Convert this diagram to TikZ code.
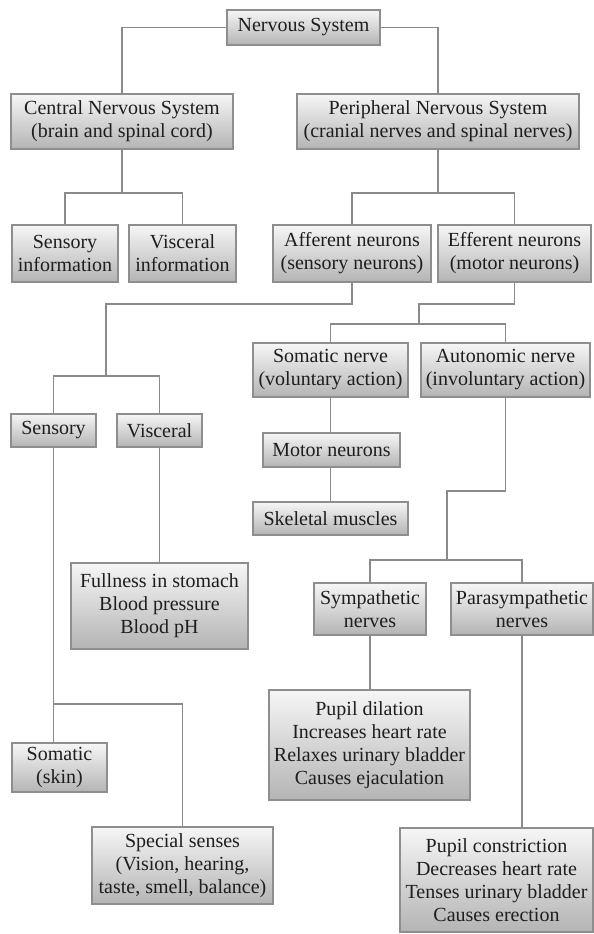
\documentclass[tikz,border=0pt]{standalone}
\usepackage{fontspec}
\setmainfont{Liberation Serif}
\definecolor{txt}{HTML}{1E1E1E}
\definecolor{edge}{HTML}{8E8E8E}
\definecolor{wire}{HTML}{8A8A8A}
\definecolor{boxtop}{HTML}{F6F6F6}
\definecolor{boxbot}{HTML}{B4B4B4}
\tikzset{
  bx/.style={draw=edge, line width=1.3pt, top color=boxtop, bottom color=boxbot,
    inner sep=0pt, align=center, text=txt,
    font=\fontsize{20}{23}\selectfont},
  wr/.style={draw=wire, line width=1.8pt}
}
\newcommand{\bxnode}[6]{\node[bx, minimum width=#4, minimum height=#5] (#1) at (#2,#3) {#6};}
\begin{document}
\begin{tikzpicture}[x=1pt,y=-1pt]
\useasboundingbox (0,0) rectangle (594,934);
% boxes
\bxnode{ns}{303.5}{27.5}{153pt}{35pt}{Nervous System}
\bxnode{cns}{122}{121.5}{222pt}{55pt}{Central Nervous System\\(brain and spinal cord)}
\bxnode{pns}{438}{121.5}{282pt}{55pt}{Peripheral Nervous System\\(cranial nerves and spinal nerves)}
\bxnode{sinfo}{65}{253.5}{106pt}{57pt}{Sensory\\information}
\bxnode{vinfo}{182.5}{253.5}{107pt}{57pt}{Visceral\\information}
\bxnode{aff}{352}{253.5}{158pt}{57pt}{Afferent neurons\\(sensory neurons)}
\bxnode{eff}{514.5}{253.5}{153pt}{57pt}{Efferent neurons\\(motor neurons)}
\bxnode{sens}{53.5}{430.5}{85pt}{33pt}{Sensory}
\bxnode{visc}{159.5}{430.5}{85pt}{33pt}{Visceral}
\bxnode{som}{330.5}{370}{155pt}{54pt}{Somatic nerve\\(voluntary action)}
\bxnode{aut}{505.5}{370}{169pt}{54pt}{Autonomic nerve\\(involuntary action)}
\bxnode{mot}{331.5}{450}{137pt}{34pt}{Motor neurons}
\bxnode{skel}{330.5}{518.5}{155pt}{33pt}{Skeletal muscles}
\bxnode{full}{159.5}{606}{177pt}{86pt}{Fullness in stomach\\Blood pressure\\Blood pH}
\bxnode{symp}{370}{609}{112pt}{52pt}{Sympathetic\\nerves}
\bxnode{para}{522}{609}{142pt}{52pt}{Parasympathetic\\nerves}
\bxnode{pdil}{369.5}{745}{201pt}{110pt}{Pupil dilation\\Increases heart rate\\Relaxes urinary bladder\\Causes ejaculation}
\bxnode{pcon}{496.5}{880}{193pt}{104pt}{Pupil constriction\\Decreases heart rate\\Tenses urinary bladder\\Causes erection}
\bxnode{somsk}{59.5}{767.5}{95pt}{49pt}{Somatic\\(skin)}
\bxnode{spec}{182.5}{865.5}{181pt}{77pt}{Special senses\\(Vision, hearing,\\taste, smell, balance)}
% bend points
\coordinate (b1) at (0,193);
\coordinate (a1) at (106,304);
\coordinate (a2) at (0,376);
\coordinate (e1) at (419,304);
\coordinate (e2) at (0,324);
\coordinate (u1) at (447,491);
\coordinate (u2) at (0,560);
\coordinate (s1) at (0,704);
% connectors
\draw[wr] (ns.west) -| (cns.north);
\draw[wr] (ns.east) -| (pns.north);
\draw[wr] (cns.south) -- (cns.south |- b1);
\draw[wr] (sinfo.north) |- (b1 -| vinfo.north) -- (vinfo.north);
\draw[wr] (pns.south) -- (pns.south |- b1);
\draw[wr] (aff.north) |- (b1 -| eff.north) -- (eff.north);
\draw[wr] (aff.south) |- (a1) -- (a1 |- a2);
\draw[wr] (sens.north) |- (a2 -| visc.north) -- (visc.north);
\draw[wr] (eff.south) |- (e1) -- (e1 |- e2);
\draw[wr] (som.north) |- (e2 -| aut.north) -- (aut.north);
\draw[wr] (som.south) -- (mot.north -| som.south);
\draw[wr] (mot.south -| som.south) -- (skel.north);
\draw[wr] (visc.south) -- (full.north);
\draw[wr] (aut.south) |- (u1) -- (u1 |- u2);
\draw[wr] (symp.north) |- (u2 -| para.north) -- (para.north);
\draw[wr] (symp.south) -- (pdil.north -| symp.south);
\draw[wr] (para.south) -- (pcon.north -| para.south);
\draw[wr] (sens.south) -- (sens.south |- s1) -| (spec.north);
\draw[wr] (sens.south |- s1) -- (somsk.north -| sens.south);
\end{tikzpicture}
\end{document}
